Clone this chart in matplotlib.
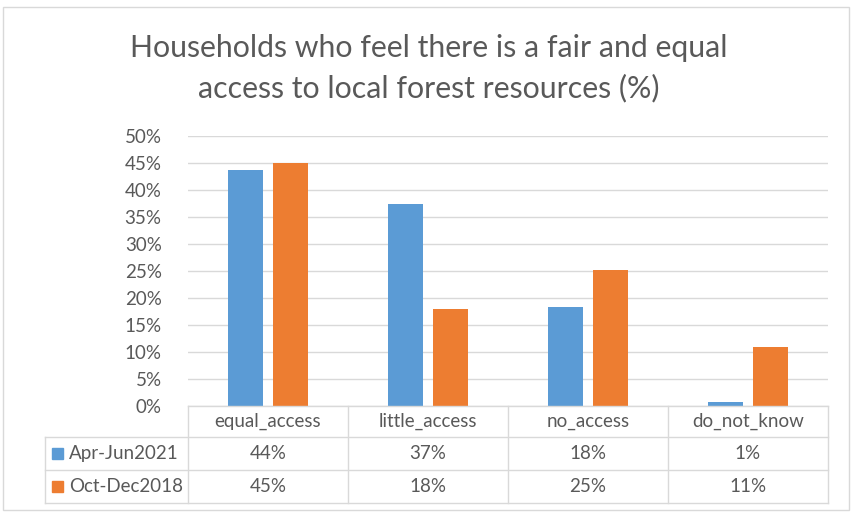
import matplotlib
matplotlib.use("Agg")
import matplotlib.pyplot as plt
from matplotlib.lines import Line2D
from matplotlib.patches import Rectangle
import numpy as np

categories = ["equal_access", "little_access", "no_access", "do_not_know"]
series_names = ["Apr-Jun2021", "Oct-Dec2018"]
apr_jun_2021 = [0.437, 0.374, 0.183, 0.007]
oct_dec_2018 = [0.450, 0.180, 0.251, 0.109]
y_ticks = [0, 0.05, 0.10, 0.15, 0.20, 0.25, 0.30, 0.35, 0.40, 0.45, 0.50]
title = "Households who feel there is a fair and equal\naccess to local forest resources (%)"

colors = ["#5B9BD5", "#ED7D31"]
text_color = "#595959"
grid_color = "#D9D9D9"
plt.rcParams['font.family'] = ['Lato', 'DejaVu Sans']

W, H = 854, 514
fig = plt.figure(figsize=(W / 100, H / 100), dpi=100)

def fx(x):
    return x / W

def fy(y):
    return 1 - y / H

# chart border
fig.patches.append(Rectangle((fx(3), fy(510)), fx(849) - fx(3), fy(7) - fy(510),
                             transform=fig.transFigure, fill=False,
                             edgecolor="#D9D9D9", linewidth=1.0))

left, right, top, bottom = 188, 828, 136, 406
ax = fig.add_axes([fx(left), fy(bottom), fx(right) - fx(left), fy(top) - fy(bottom)])

x = np.arange(len(categories))
bw = 0.222
off = 0.14
ax.bar(x - off, apr_jun_2021, width=bw, color=colors[0], zorder=3)
ax.bar(x + off, oct_dec_2018, width=bw, color=colors[1], zorder=3)

ax.set_xlim(-0.5, len(categories) - 0.5)
ax.set_ylim(0, 0.5)
ax.set_yticks(y_ticks)
ax.set_yticklabels([f"{int(round(t * 100))}%" for t in y_ticks])
ax.tick_params(axis='y', length=0, labelsize=13.5, labelcolor=text_color, pad=19)
ax.set_xticks([])
ax.yaxis.grid(True, color=grid_color, linewidth=1.0, zorder=0)
for s in ax.spines.values():
    s.set_visible(False)

# title
fig.text(fx(429), fy(68), title, ha="center", va="center", fontsize=21.8,
         color=text_color, linespacing=1.5)

# data table
row_y = [406, 437, 470, 503]
col_x = [188, 348, 508, 668, 828]
tbl_left = 45
lw = 1.0

def hline(y, x0, x1):
    fig.add_artist(Line2D([fx(x0), fx(x1)], [fy(y), fy(y)], transform=fig.transFigure,
                          color=grid_color, linewidth=lw))

def vline(x, y0, y1):
    fig.add_artist(Line2D([fx(x), fx(x)], [fy(y0), fy(y1)], transform=fig.transFigure,
                          color=grid_color, linewidth=lw))

hline(row_y[0], col_x[0], col_x[-1])
for yy in row_y[1:]:
    hline(yy, tbl_left, col_x[-1])
vline(tbl_left, row_y[1], row_y[-1])
for xx in col_x:
    vline(xx, row_y[0], row_y[-1])

fs = 13.5
for i, cat in enumerate(categories):
    cx = (col_x[i] + col_x[i + 1]) / 2
    fig.text(fx(cx), fy((row_y[0] + row_y[1]) / 2), cat, ha="center", va="center",
             fontsize=fs, color=text_color)

for r, (name, vals) in enumerate(zip(series_names, [apr_jun_2021, oct_dec_2018])):
    cy = (row_y[r + 1] + row_y[r + 2]) / 2
    fig.patches.append(Rectangle((fx(52), fy(cy + 5)), fx(11), 11 / H,
                                 transform=fig.transFigure, color=colors[r]))
    fig.text(fx(69), fy(cy), name, ha="left", va="center", fontsize=fs, color=text_color)
    for i, v in enumerate(vals):
        cx = (col_x[i] + col_x[i + 1]) / 2
        fig.text(fx(cx), fy(cy), f"{int(round(v * 100))}%", ha="center", va="center",
                 fontsize=fs, color=text_color)

fig.savefig("out.png", dpi=100)
